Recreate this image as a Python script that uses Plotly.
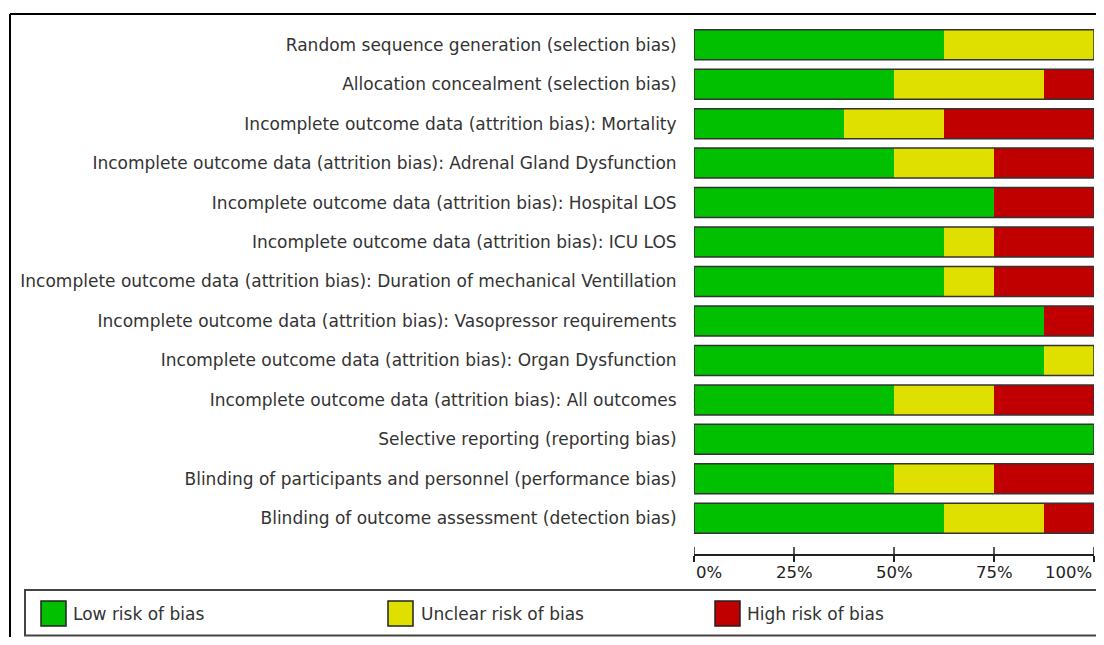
import plotly.graph_objects as go

categories = [
    "Random sequence generation (selection bias)",
    "Allocation concealment (selection bias)",
    "Incomplete outcome data (attrition bias): Mortality",
    "Incomplete outcome data (attrition bias): Adrenal Gland Dysfunction",
    "Incomplete outcome data (attrition bias): Hospital LOS",
    "Incomplete outcome data (attrition bias): ICU LOS",
    "Incomplete outcome data (attrition bias): Duration of mechanical Ventillation",
    "Incomplete outcome data (attrition bias): Vasopressor requirements",
    "Incomplete outcome data (attrition bias): Organ Dysfunction",
    "Incomplete outcome data (attrition bias): All outcomes",
    "Selective reporting (reporting bias)",
    "Blinding of participants and personnel (performance bias)",
    "Blinding of outcome assessment (detection bias)",
]
low = [62.5, 50, 37.5, 50, 75, 62.5, 62.5, 87.5, 87.5, 50, 100, 50, 62.5]
unclear = [37.5, 37.5, 25, 25, 0, 12.5, 12.5, 0, 12.5, 25, 0, 25, 25]
high = [0, 12.5, 37.5, 25, 25, 25, 25, 12.5, 0, 25, 0, 25, 12.5]
tick_vals = [0, 25, 50, 75, 100]
tick_text = ["0%", "25%", "50%", "75%", "100%"]
legend_names = ["Low risk of bias", "Unclear risk of bias", "High risk of bias"]
colors = ["#00C000", "#E0E000", "#C00000"]

OFF = 8  # page body margin
W, H = 1104 - 2 * OFF, 645 - 2 * OFF
ML, MR, MT = 694 - OFF, 2, 25 - OFF
MB = H - (555 - OFF)
PW = W - ML - MR
PH = H - MT - MB
FONT = "DejaVu Sans"


def px(x):
    return (x - OFF - ML) / PW


def py(y):
    return (H - MB - (y - OFF)) / PH


fig = go.Figure()
series = [low, unclear, high]
bases = [[0] * len(low), low, [a + b for a, b in zip(low, unclear)]]
for name, vals, base, col in zip(legend_names, series, bases, colors):
    fig.add_trace(go.Bar(
        y=categories, x=vals, base=base, orientation="h", name=name,
        marker=dict(color=col, line=dict(width=0)), showlegend=False,
        hoverinfo="x+y",
    ))
totals = [a + b + c for a, b, c in zip(low, unclear, high)]
fig.add_trace(go.Bar(
    y=categories, x=totals, base=[0] * len(totals), orientation="h",
    marker=dict(color="rgba(0,0,0,0)", line=dict(color="#333333", width=1.5)),
    showlegend=False, hoverinfo="skip",
))

shapes = []
# frame
shapes.append(dict(type="line", xref="paper", yref="paper", x0=px(10), x1=px(1110),
                   y0=py(14), y1=py(14), line=dict(color="black", width=2)))
shapes.append(dict(type="line", xref="paper", yref="paper", x0=px(10), x1=px(10),
                   y0=py(14), y1=py(650), line=dict(color="black", width=2)))
# legend box
shapes.append(dict(type="rect", xref="paper", yref="paper", x0=px(25), x1=px(1110),
                   y0=py(590), y1=py(635.5), line=dict(color="#444444", width=2),
                   fillcolor="white"))
legend_sq_x = [41, 388, 715]
legend_txt_x = [71, 419, 745]
annotations = []
for sx, tx, name, col in zip(legend_sq_x, legend_txt_x, legend_names, colors):
    shapes.append(dict(type="rect", xref="paper", yref="paper", x0=px(sx), x1=px(sx + 25),
                       y0=py(601), y1=py(626), line=dict(color="#222222", width=1.5),
                       fillcolor=col))
    annotations.append(dict(text=name, xref="paper", yref="paper", x=px(tx), y=py(613.5),
                            xanchor="left", yanchor="middle", showarrow=False,
                            font=dict(family=FONT, size=17, color="#333333")))
# upward tick parts
for tv in tick_vals:
    shapes.append(dict(type="line", xref="x", yref="paper", x0=tv, x1=tv,
                       y0=py(555), y1=py(547), line=dict(color="#222222", width=1.5)))
for tv, tt in zip(tick_vals, tick_text):
    anchor = "left" if tv == 0 else ("right" if tv == 100 else "center")
    annotations.append(dict(text=tt, xref="x", yref="paper", x=tv, y=py(572),
                            xanchor=anchor, yanchor="middle", showarrow=False,
                            font=dict(family=FONT, size=16.5, color="#222222")))

fig.update_layout(
    width=W, height=H,
    margin=dict(l=ML, r=MR, t=MT, b=MB),
    paper_bgcolor="white", plot_bgcolor="white",
    barmode="overlay", bargap=0.24,
    shapes=shapes, annotations=annotations,
    xaxis=dict(range=[0, 100], tickvals=tick_vals, ticktext=["" for _ in tick_vals],
               showgrid=False, zeroline=False, showline=True, linecolor="#222222",
               linewidth=1.5, ticks="outside", ticklen=6, tickcolor="#222222",
               tickwidth=1.5, anchor="free", position=0, fixedrange=True),
    yaxis=dict(domain=[py(538), 1], autorange="reversed", showgrid=False,
               zeroline=False, showline=False, ticks="outside", ticklen=13,
               tickcolor="rgba(0,0,0,0)",
               tickfont=dict(family=FONT, size=17, color="#333333"),
               fixedrange=True),
)

fig.write_html("out.html")
